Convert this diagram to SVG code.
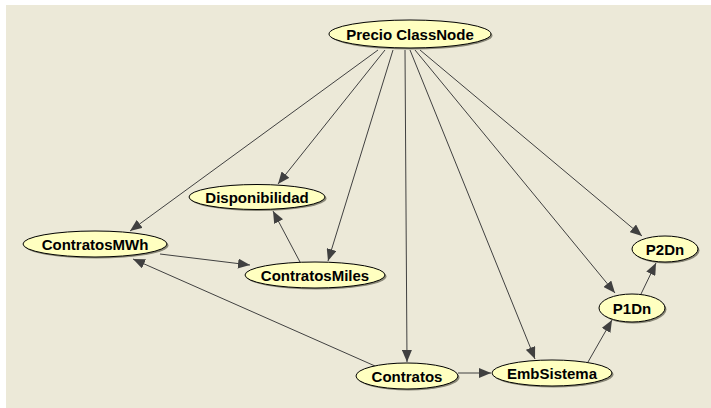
<svg xmlns="http://www.w3.org/2000/svg" width="711" height="408" viewBox="0 0 711 408">
  <style>
    .edge { stroke: #404040; stroke-width: 1; fill: none; marker-end: url(#arrow); }
    .shadow { fill: #8a8878; }
    .node { fill: #FFFFC0; stroke: #000000; stroke-width: 1; }
    .label { font-family: "Liberation Sans", Arial, sans-serif; font-weight: bold; font-size: 15px; fill: #000000; text-anchor: middle; }
  </style>
  <defs>
    <marker id="arrow" viewBox="0 0 12 10" refX="12" refY="5" markerWidth="12" markerHeight="10" markerUnits="userSpaceOnUse" orient="auto">
      <path d="M0,0 L12,5 L0,10 Z" fill="#404040"/>
    </marker>
  </defs>

  <rect x="6" y="5" width="705" height="403" fill="#ECE9D8"/>

  <g id="connectors">
    <line class="edge" x1="378" y1="50" x2="130" y2="231"/>
    <line class="edge" x1="385" y1="50" x2="278" y2="184"/>
    <line class="edge" x1="393" y1="50" x2="328" y2="261"/>
    <line class="edge" x1="405" y1="50" x2="407" y2="362"/>
    <line class="edge" x1="410" y1="50" x2="535" y2="359"/>
    <line class="edge" x1="415" y1="50" x2="615" y2="293"/>
    <line class="edge" x1="420" y1="50" x2="642" y2="236"/>
    <line class="edge" x1="641" y1="294" x2="656" y2="263"/>
    <line class="edge" x1="588" y1="362" x2="612" y2="320"/>
    <line class="edge" x1="458" y1="373" x2="491" y2="373"/>
    <line class="edge" x1="375" y1="366" x2="133" y2="259"/>
    <line class="edge" x1="160" y1="254" x2="250" y2="265"/>
    <line class="edge" x1="300" y1="262" x2="273" y2="211"/>
  </g>

  <g id="precio-classnode">
    <ellipse class="shadow" cx="411.5" cy="35.5" rx="81" ry="14"/>
    <ellipse class="node" cx="410" cy="34" rx="81" ry="14"/>
    <text class="label" x="410" y="40">Precio ClassNode</text>
  </g>
  <g id="disponibilidad">
    <ellipse class="shadow" cx="258.5" cy="198.5" rx="68" ry="12.5"/>
    <ellipse class="node" cx="257" cy="197" rx="68" ry="12.5"/>
    <text class="label" x="257" y="203">Disponibilidad</text>
  </g>
  <g id="contratosmwh">
    <ellipse class="shadow" cx="96.5" cy="245.5" rx="72" ry="13"/>
    <ellipse class="node" cx="95" cy="244" rx="72" ry="13"/>
    <text class="label" x="95" y="250">ContratosMWh</text>
  </g>
  <g id="contratosmiles">
    <ellipse class="shadow" cx="316.5" cy="276.5" rx="70" ry="13"/>
    <ellipse class="node" cx="315" cy="275" rx="70" ry="13"/>
    <text class="label" x="315" y="281">ContratosMiles</text>
  </g>
  <g id="contratos">
    <ellipse class="shadow" cx="408.5" cy="377.5" rx="51" ry="13"/>
    <ellipse class="node" cx="407" cy="376" rx="51" ry="13"/>
    <text class="label" x="407" y="382">Contratos</text>
  </g>
  <g id="embsistema">
    <ellipse class="shadow" cx="553.5" cy="374.5" rx="60" ry="13"/>
    <ellipse class="node" cx="552" cy="373" rx="60" ry="13"/>
    <text class="label" x="552" y="379">EmbSistema</text>
  </g>
  <g id="p2dn">
    <ellipse class="shadow" cx="666.5" cy="250.5" rx="33" ry="13"/>
    <ellipse class="node" cx="665" cy="249" rx="33" ry="13"/>
    <text class="label" x="665" y="255">P2Dn</text>
  </g>
  <g id="p1dn">
    <ellipse class="shadow" cx="633.5" cy="309.5" rx="33" ry="14"/>
    <ellipse class="node" cx="632" cy="308" rx="33" ry="14"/>
    <text class="label" x="632" y="314">P1Dn</text>
  </g>
</svg>
